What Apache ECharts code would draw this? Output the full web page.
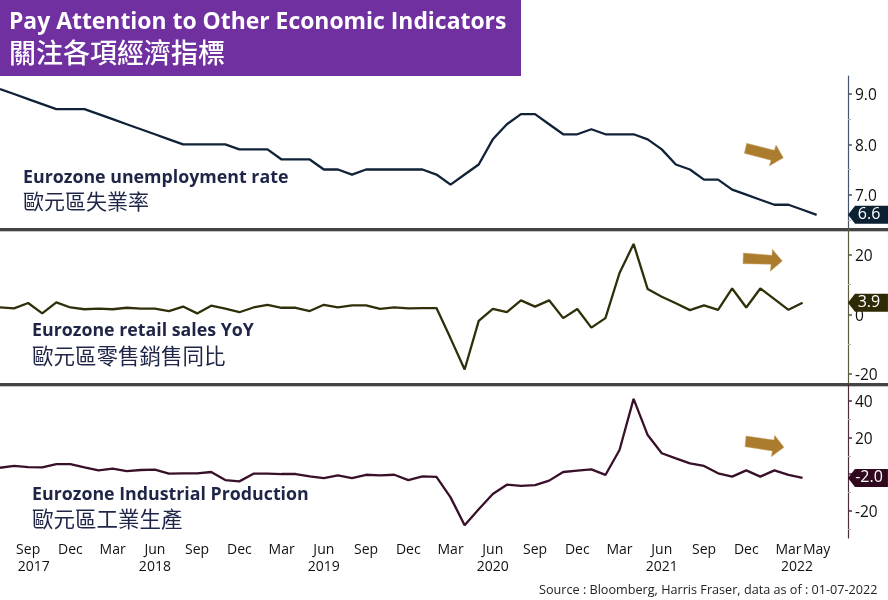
<!DOCTYPE html>
<html>
<head>
<meta charset="utf-8">
<style>html,body{margin:0;padding:0;background:#fff}#c{width:888px;height:600px}</style>
<script src="https://cdn.jsdelivr.net/npm/echarts@6/dist/echarts.min.js"></script>
</head>
<body>
<div id="c"></div>
<script>
const unemployment = [9.1,9.0,8.9,8.8,8.7,8.7,8.7,8.6,8.5,8.4,8.3,8.2,8.1,8.0,8.0,8.0,8.0,7.9,7.9,7.9,7.7,7.7,7.7,7.5,7.5,7.4,7.5,7.5,7.5,7.5,7.5,7.4,7.2,7.4,7.6,8.1,8.4,8.6,8.6,8.4,8.2,8.2,8.3,8.2,8.2,8.2,8.1,7.9,7.6,7.5,7.3,7.3,7.1,7.0,6.9,6.8,6.8,6.7,6.6];
const retail = [2.3,2.0,3.8,0.3,4.0,2.3,1.7,1.9,1.7,2.2,1.9,1.9,1.1,2.6,0.3,2.9,1.9,0.7,2.3,3.2,2.2,2.2,1.1,3.2,2.3,3.0,3.0,1.8,2.3,2.0,2.1,2.1,-8.1,-18.6,-2.2,1.8,0.7,4.7,2.6,4.7,-1.3,1.8,-4.5,-1.3,13.9,23.7,8.5,5.9,3.7,1.4,3.0,1.5,8.7,2.3,8.7,5.1,1.5,3.9];
const production = [3.5,4.5,3.9,3.7,5.5,5.5,3.7,2.1,3.0,1.7,2.3,2.5,0.3,0.5,0.5,1.2,-3.2,-3.9,0.3,0.3,0.1,0.1,-1.2,-2.1,-0.6,-2.1,-0.3,-0.6,-0.3,-3.2,-1.2,-1.5,-12.6,-27.8,-19.1,-10.8,-5.7,-6.3,-5.9,-3.5,1.2,1.9,2.6,-0.4,13.2,41,21.3,11.4,8.6,5.9,4.5,0.5,-1.3,2.1,-1.3,2.1,-0.4,-2.0];

const monthNames = ['Jul','Aug','Sep','Oct','Nov','Dec','Jan','Feb','Mar','Apr','May','Jun'];
const monthCategories = Array.from({length:61},(_,i)=>monthNames[i%12]+' '+(2017+Math.floor((i+6)/12)));
const shownMonths = ['Sep 2017','Dec 2017','Mar 2018','Jun 2018','Sep 2018','Dec 2018','Mar 2019','Jun 2019','Sep 2019','Dec 2019','Mar 2020','Jun 2020','Sep 2020','Dec 2020','Mar 2021','Jun 2021','Sep 2021','Dec 2021','Mar 2022','May 2022'];
const yearLabels = ['2017','2018','2019','2020','2021','2022'];
const yearPositions = [2.4,11,23,35,47,56.6];

const ticks1 = [7,8,9], minor1 = [6.5,7.5,8.5];
const ticks2 = [-20,0,20], minor2 = [-10,10];
const ticks3 = [-20,0,20,40], minor3 = [-30,-10,10,30];

const MONO = 'Open Sans';
const CJK = '"Noto Sans CJK TC"';
const navy = '#1f2547';

const panels = [
 {top:76,h:153,min:6.318,max:9.358,data:unemployment,ticks:ticks1,minor:minor1,fmt:v=>v.toFixed(1),line:'#0f2238',axis:'#44546a',tag:'#0c2033',shift:51.4},
 {top:229,h:155,min:-23.47,max:28.72,data:retail,ticks:ticks2,minor:minor2,fmt:v=>String(v),line:'#2f2f0a',axis:'#5c5a3c',tag:'#2e2a05',shift:65.4},
 {top:384,h:154,min:-34.7,max:49.07,data:production,ticks:ticks3,minor:minor3,fmt:v=>String(v),line:'#38102a',axis:'#4b2c3f',tag:'#30091f',shift:65.4}
];

const grid=[],xAxis=[],yAxis=[],series=[];
panels.forEach((p,k)=>{
  grid.push({left:0,top:p.top,width:844.8,height:p.h,containLabel:false});
  xAxis.push({type:'category',gridIndex:k,boundaryGap:false,data:monthCategories,
    axisLine:{show:false},axisTick:{show:false},splitLine:{show:false},
    axisLabel: k===2 ? {show:true,interval:(i,v)=>shownMonths.includes(v),formatter:v=>v.split(' ')[0],
       fontFamily:MONO,fontSize:14,color:'#111',margin:5,hideOverlap:false} : {show:false}});
  yAxis.push({type:'value',gridIndex:k,position:'right',offset:3.2,min:p.min,max:p.max,
    axisLine:{show:true,onZero:false,lineStyle:{color:p.axis,width:1.2}},
    axisTick:{show:true,length:4,customValues:p.ticks,lineStyle:{color:p.axis,width:1.5}},
    splitLine:{show:false},
    axisLabel:{show:true,customValues:p.ticks,formatter:v=>'{a|'+p.fmt(v)+'}',margin:7,showMinLabel:true,showMaxLabel:true,
      rich:{a:{fontFamily:MONO,fontSize:15.5,color:'#111',padding:[4,0,0,0]}}}});
  yAxis.push({type:'value',gridIndex:k,position:'right',offset:3.2,min:p.min,max:p.max,
    axisLine:{show:false,onZero:false},
    axisTick:{show:true,length:3,customValues:p.minor,lineStyle:{color:'#b5b5b5',width:1}},
    splitLine:{show:false},axisLabel:{show:false}});
  const last=p.data.length-1;
  series.push({type:'line',xAxisIndex:k,yAxisIndex:k*2,data:p.data,showSymbol:false,symbol:'none',
    lineStyle:{color:p.line,width:2.3},itemStyle:{color:p.line},silent:true,animation:false,
    markPoint:{silent:true,animation:false,data:[{coord:[last,p.data[last]],value:p.data[last]}],
      symbol:'path://M0 9 L7 0 H40 V18 H7 Z',symbolSize:[40,18],symbolKeepAspect:false,symbolOffset:[p.shift,0],
      itemStyle:{color:p.tag},
      label:{show:true,position:'inside',formatter:d=>d.value.toFixed(1),color:'#fff',fontFamily:MONO,fontSize:16,offset:[1,0]}}});
});
xAxis.push({type:'value',gridIndex:2,position:'bottom',min:0,max:60,offset:17,
  axisLine:{show:false,onZero:false},axisTick:{show:false},splitLine:{show:false},
  axisLabel:{show:true,customValues:yearPositions,formatter:v=>yearLabels[yearPositions.indexOf(v)],fontFamily:MONO,fontSize:14,color:'#111',margin:5,showMinLabel:true,showMaxLabel:true}});

const txt=(text,left,top,size,weight,color,family)=>({text,left,top,padding:0,textStyle:{fontFamily:family,fontSize:size,fontWeight:weight,color}});
const title=[
 txt('Pay Attention to Other Economic Indicators',9,11,22.9,700,'#fff',MONO),
 txt('關注各項經濟指標',9,39,27,500,'#fff',CJK),
 txt('Eurozone unemployment rate',23,169,17.8,700,navy,MONO),
 txt('歐元區失業率',23,191,21,400,navy,CJK),
 txt('Eurozone retail sales YoY',32,322,17.8,700,navy,MONO),
 txt('歐元區零售銷售同比',32,345,21.5,400,navy,CJK),
 txt('Eurozone Industrial Production',32,486,17.8,700,navy,MONO),
 txt('歐元區工業生產',32,508,21.5,400,navy,CJK),
 txt('Source : Bloomberg, Harris Fraser, data as of : 01-07-2022',539,584,12.65,400,'#222',MONO)
];

const arrow=(pts,dy)=>({type:'polygon',silent:true,shape:{points:pts.map(([x,y])=>[640+x/3,dy+y/3])},style:{fill:'#ab7c2e',stroke:'#c9a96e',lineWidth:0.5}});
const graphic=[
 {type:'rect',silent:true,z:-1,shape:{x:0,y:0,width:521,height:76},style:{fill:'#7030a0'}},
 {type:'rect',silent:true,shape:{x:0,y:228,width:888,height:3},style:{fill:'#444'}},
 {type:'rect',silent:true,shape:{x:0,y:231,width:888,height:1},style:{fill:'#c4c4c4'}},
 {type:'rect',silent:true,shape:{x:0,y:383,width:888,height:3},style:{fill:'#444'}},
 {type:'rect',silent:true,shape:{x:0,y:386,width:888,height:1},style:{fill:'#c4c4c4'}},
 arrow([[320,220],[403,241],[408,225],[430,263],[388,288],[393,271],[313,250]],70),
 arrow([[310,84],[396,91],[397,73],[427,108],[391,139],[393,118],[309,116]],225),
 arrow([[318,168],[402,180],[404,166],[432,202],[394,230],[397,213],[315,200]],380)
];

const chart=echarts.init(document.getElementById('c'),null,{renderer:'canvas'});
chart.setOption({backgroundColor:'#fff',animation:false,title,grid,xAxis,yAxis,series,graphic});
</script>
</body>
</html>
